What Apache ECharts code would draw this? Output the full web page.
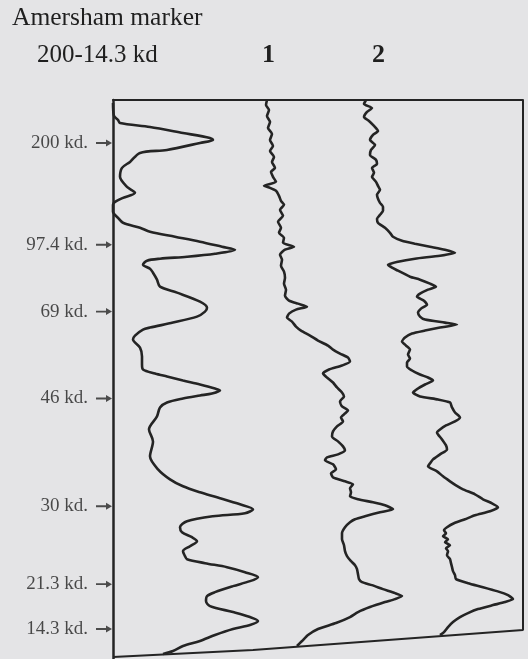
<!DOCTYPE html>
<html><head><meta charset="utf-8">
<script src="https://cdn.jsdelivr.net/npm/echarts@6/dist/echarts.min.js"></script>
<style>html,body{margin:0;padding:0;background:#e4e4e6;}#c{width:528px;height:659px;}</style>
</head><body><div id="c"></div>
<script>
// Migration distance (position along gel, top = 0) and densitometric intensity
var markerPos = [3,16,20,23,27,33,38,40,43,50,53,62,68,77,87,93,98,102,105,112,118,123,128,132,137,142,147,150,154,157,159,161,165,169,173,180,187,193,202,208,212,217,223,228,230,236,240,248,257,265,270,274,277,281,285,289,291,294,296,299,303,308,317,330,342,357,370,380,387,393,398,405,410,414,417,422,428,433,438,442,447,452,457,460,464,468,473,478,482,487,493,497,502,507,513,518,522,526,530,536,542,547,552,555];
var markerVal = [0,1,5,7,37,70,97,100,87,54,27,17,9,7,14,22,10,2,0,0,5,10,27,37,62,87,109,122,102,74,47,34,30,37,40,44,47,64,87,94,92,84,60,37,30,22,20,27,29,29,30,42,54,70,87,102,107,99,87,70,54,47,44,36,40,37,45,57,70,87,104,127,140,132,100,74,67,69,79,84,77,70,72,74,92,114,132,145,137,120,102,94,93,97,120,137,145,137,120,102,87,70,60,50];

var lane1Pos = [0,5,10,16,22,28,34,40,46,51,57,62,68,72,77,82,86,88,91,96,101,105,110,116,122,128,133,138,143,147,150,155,160,166,172,178,184,190,196,201,204,207,210,214,218,222,227,231,236,241,246,250,254,258,262,266,270,274,278,283,288,293,297,302,307,311,314,318,322,327,332,337,342,347,351,355,358,361,365,370,374,378,382,385,389,393,397,400,403,406,410,413,417,420,423,428,434,440,446,452,457,462,466,470,475,480,483,486,490,494,497,500,503,508,513,518,524,530,536,542,547];
var lane1Val = [4,3,6,4,7,5,9,7,10,7,11,9,12,8,10,13,1,7,13,16,18,21,17,20,15,18,16,21,20,31,22,17,19,18,21,22,21,23,22,26,35,44,33,26,24,29,33,38,47,55,65,70,77,85,87,79,66,60,64,70,74,79,81,77,79,85,82,78,80,74,70,69,75,80,82,75,64,62,70,73,68,70,82,90,87,88,87,95,110,122,130,117,102,92,87,82,79,79,81,82,84,88,92,94,95,96,99,109,120,132,139,132,122,107,95,87,73,55,45,39,34];

var lane2Pos = [0,4,8,12,17,21,26,31,35,40,45,50,55,60,64,68,73,77,82,86,90,95,99,103,107,111,115,119,123,128,133,137,141,144,147,150,153,156,159,162,165,168,171,174,177,180,184,187,190,194,197,201,205,209,213,217,220,223,225,228,231,234,238,242,246,250,255,259,263,267,271,275,278,281,285,289,293,297,300,303,308,313,318,322,326,330,333,340,346,350,355,360,364,367,372,377,382,386,390,395,400,404,408,412,416,420,424,428,431,434,437,440,443,446,449,452,456,460,464,468,472,476,480,484,488,492,496,500,503,506,510,514,518,523,528,533,536];
var lane2Val = [3,1,9,4,1,6,11,15,10,7,12,8,7,13,14,9,11,9,13,15,17,14,15,17,20,20,17,14,15,22,27,30,39,52,67,82,92,77,52,35,25,29,35,41,47,57,67,73,65,57,54,61,64,58,55,57,62,82,94,77,62,49,42,39,43,47,45,47,44,44,49,57,65,70,62,55,50,57,75,87,89,92,97,92,83,77,74,79,83,84,77,70,67,65,74,80,87,93,100,112,120,129,135,127,112,102,91,84,81,83,80,85,82,87,83,85,84,87,88,89,90,92,93,105,120,134,145,150,142,130,115,105,97,90,85,81,77];

var laneOffsets = [0, 150, 250];

var bandNames = ['200 kd.','97.4 kd.','69 kd.','46 kd.','30 kd.','21.3 kd.','14.3 kd.'];
var bandPos = [43,145,212,299,407,485,530];

var baselineX = [0,140,410];
var baselineD = [558,551,531];

function build(pos, val, off){ return pos.map(function(p,i){ return [val[i]+off, p]; }); }

var LINE = '#242424';
var TEXT = '#1f1f1f';
var serif = 'Liberation Serif';

var chart = echarts.init(document.getElementById('c'), null, {renderer:'canvas'});
chart.setOption({
  backgroundColor: '#e4e4e6',
  animation: false,
  title: [
    {text:'Amersham marker', left:12, top:5, padding:0, textStyle:{fontFamily:serif, fontSize:25.5, fontWeight:'normal', color:TEXT}},
    {text:'200-14.3 kd', left:37, top:43, padding:0, textStyle:{fontFamily:serif, fontSize:25, fontWeight:'normal', color:TEXT}},
    {text:'1', left:262, top:42, padding:0, textStyle:{fontFamily:serif, fontSize:26, fontWeight:'bold', color:TEXT}},
    {text:'2', left:372, top:42, padding:0, textStyle:{fontFamily:serif, fontSize:26, fontWeight:'bold', color:TEXT}}
  ],
  grid: {left:113, top:100, width:410, height:560, show:false},
  xAxis: {type:'value', min:0, max:410, position:'top',
    axisLine:{show:true, onZero:false, lineStyle:{color:LINE, width:2}},
    axisTick:{show:false}, axisLabel:{show:false}, splitLine:{show:false}},
  yAxis: {type:'value', min:0, max:560, inverse:true,
    axisLine:{show:true, onZero:false, lineStyle:{color:LINE, width:2.5}},
    axisTick:{show:false}, axisLabel:{show:false}, splitLine:{show:false}},
  series: [
    {name:'Marker', type:'line', data:build(markerPos, markerVal, laneOffsets[0]), showSymbol:false, smooth:0.3, lineStyle:{color:LINE, width:2.6}},
    {name:'Lane 1', type:'line', data:build(lane1Pos, lane1Val, laneOffsets[1]), showSymbol:false, smooth:0.2, lineStyle:{color:LINE, width:2.6}},
    {name:'Lane 2', type:'line', data:build(lane2Pos, lane2Val, laneOffsets[2]), showSymbol:false, smooth:0.2, lineStyle:{color:LINE, width:2.6}},
    {name:'Frame', type:'line', data:[[baselineX[2],0]].concat(baselineX.map(function(x,i){return [x, baselineD[i]];}).reverse()), showSymbol:false, lineStyle:{color:LINE, width:2}},
    {name:'Bands', type:'scatter', clip:false,
      data: bandPos.map(function(p,i){ return {name:bandNames[i], value:[0,p]}; }),
      symbol:'path://M0,2.6 L10,2.6 L10,0.3 L16,3.5 L10,6.7 L10,4.4 L0,4.4 Z',
      symbolSize:[16,7], symbolOffset:[-9,0],
      itemStyle:{color:LINE},
      label:{show:true, position:'left', distance:8, formatter:'{b}', fontFamily:serif, fontSize:19, color:TEXT}
    }
  ]
});
</script></body></html>
